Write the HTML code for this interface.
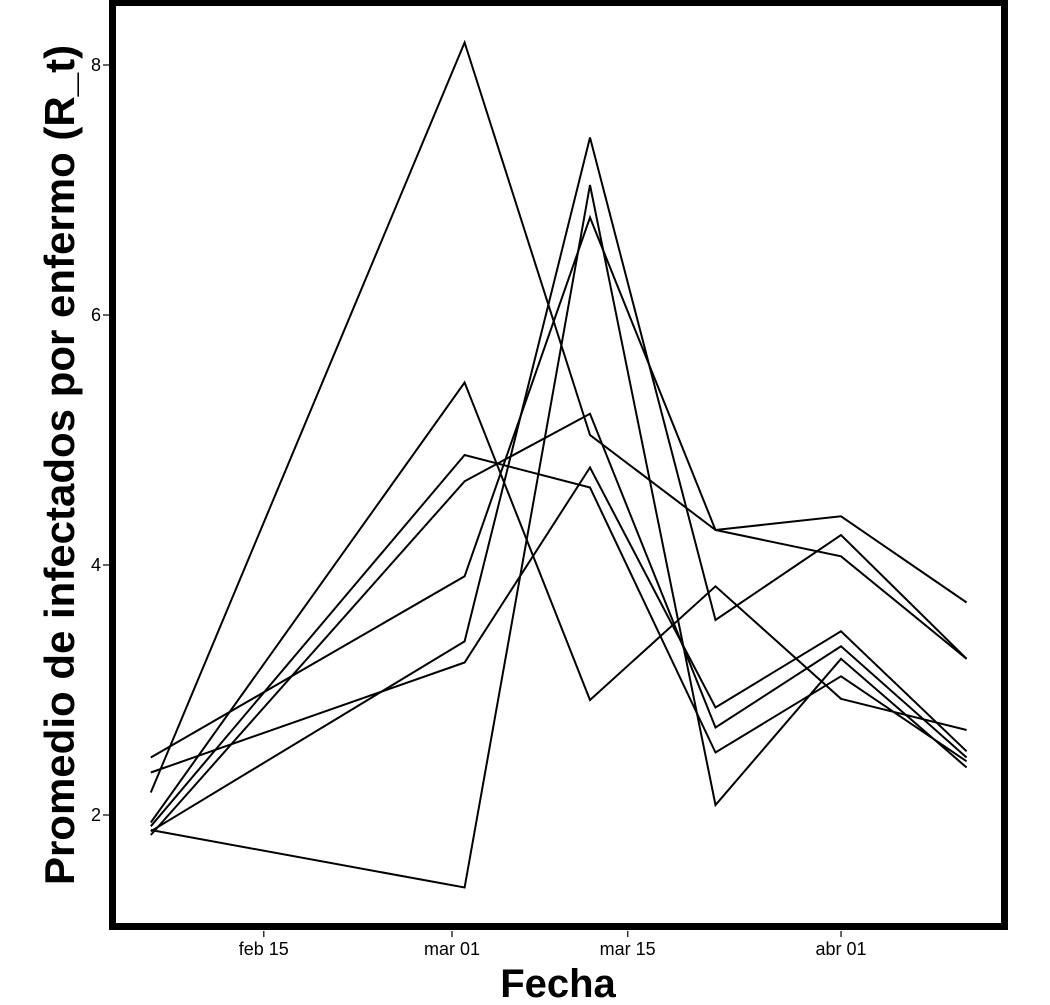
<!DOCTYPE html>
<html><head><meta charset="utf-8"><style>
html,body{margin:0;padding:0;background:#fff;}
svg{display:block;font-family:"Liberation Sans",Arial,sans-serif;}
</style></head><body>
<svg id="chart" width="1050" height="1005" viewBox="0 0 1050 1005">
<rect x="0" y="0" width="1050" height="1005" fill="#fff"/>
<g id="lines"></g>
<g id="axes"></g>
<rect x="112.5" y="2.5" width="892" height="924" fill="none" stroke="#000" stroke-width="7"/>
<text x="558" y="997" text-anchor="middle" font-size="40" font-weight="bold">Fecha</text>
<text transform="translate(74,465) rotate(-90)" text-anchor="middle" font-size="42" font-weight="bold">Promedio de infectados por enfermo (R_t)</text>
</svg>
<script>
const dates = ["2020-02-06","2020-03-02","2020-03-12","2020-03-22","2020-04-01","2020-04-11"];
const seriesA = [2.18, 8.18, 5.04, 4.28, 4.39, 3.70];
const seriesB = [1.94, 5.46, 2.92, 3.83, 2.93, 2.68];
const seriesC = [1.91, 4.88, 4.62, 2.50, 3.11, 2.43];
const seriesD = [1.84, 4.67, 5.21, 2.70, 3.35, 2.46];
const seriesE = [2.46, 3.91, 6.78, 4.28, 4.07, 3.25];
const seriesF = [1.87, 3.39, 7.42, 3.56, 4.24, 3.25];
const seriesG = [2.34, 3.22, 4.78, 2.86, 3.47, 2.51];
const seriesH = [1.88, 1.42, 7.04, 2.08, 3.25, 2.38];
const yTicks = [2, 4, 6, 8];
const xTickDates = ["2020-02-15","2020-03-01","2020-03-15","2020-04-01"];
const xTickLabels = ["feb 15","mar 01","mar 15","abr 01"];

const NS = "http://www.w3.org/2000/svg";
const day0 = Date.parse("2020-03-01");
function xScale(d){ return 452 + (Date.parse(d) - day0) / 86400000 * 12.55; }
function yScale(v){ return 815 - (v - 2) * 125; }

const allSeries = [seriesA, seriesB, seriesC, seriesD, seriesE, seriesF, seriesG, seriesH];
const lg = document.getElementById("lines");
allSeries.forEach((s, i) => {
  const p = document.createElementNS(NS, "polyline");
  p.setAttribute("points", s.map((v, j) => xScale(dates[j]).toFixed(1) + "," + yScale(v).toFixed(1)).join(" "));
  p.setAttribute("fill", "none");
  p.setAttribute("stroke", "#000");
  p.setAttribute("stroke-width", "2");
  p.setAttribute("stroke-linejoin", "miter");
  
  
  lg.appendChild(p);
});

const ag = document.getElementById("axes");
yTicks.forEach(t => {
  const y = yScale(t);
  const l = document.createElementNS(NS, "line");
  l.setAttribute("x1", 103); l.setAttribute("x2", 109);
  l.setAttribute("y1", y); l.setAttribute("y2", y);
  l.setAttribute("stroke", "#333"); l.setAttribute("stroke-width", "1.5");
  
  
  ag.appendChild(l);
  const tx = document.createElementNS(NS, "text");
  tx.setAttribute("x", 101); tx.setAttribute("y", y + 6);
  tx.setAttribute("text-anchor", "end"); tx.setAttribute("font-size", "18");
  tx.textContent = t;
  
  
  ag.appendChild(tx);
});
xTickDates.forEach((d, i) => {
  const x = xScale(d);
  const l = document.createElementNS(NS, "line");
  l.setAttribute("x1", x); l.setAttribute("x2", x);
  l.setAttribute("y1", 931); l.setAttribute("y2", 937);
  l.setAttribute("stroke", "#333"); l.setAttribute("stroke-width", "1.5");
  
  
  ag.appendChild(l);
  const tx = document.createElementNS(NS, "text");
  tx.setAttribute("x", x); tx.setAttribute("y", 955);
  tx.setAttribute("text-anchor", "middle"); tx.setAttribute("font-size", "18");
  tx.textContent = xTickLabels[i];
  
  
  ag.appendChild(tx);
});
</script>
</body></html>
